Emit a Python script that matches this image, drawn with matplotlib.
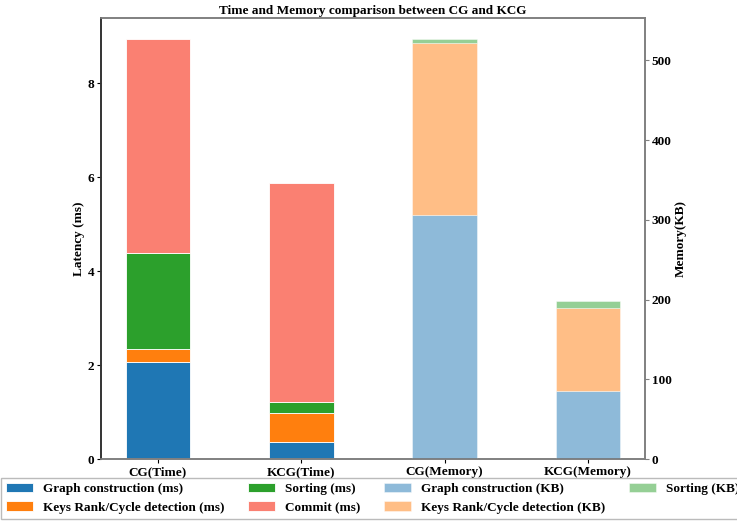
import matplotlib
matplotlib.use("Agg")
import matplotlib.pyplot as plt

plt.rcParams['font.family'] = ['Liberation Serif', 'DejaVu Serif']
plt.rcParams['font.weight'] = 'bold'

# Categories on the shared x axis
time_labels = ["CG(Time)", "KCG(Time)"]
mem_labels = ["CG(Memory)", "KCG(Memory)"]

# Latency breakdown (ms)
graph_ms = [2.06, 0.37]
rank_ms = [0.28, 0.60]
sort_ms = [2.05, 0.25]
commit_ms = [4.54, 4.65]

# Memory breakdown (KB)
graph_kb = [306, 85]
rank_kb = [216, 104]
sort_kb = [5, 9]

FS = 9.5
width = 0.45
x_time = [0, 1]
x_mem = [2, 3]

fig = plt.figure(figsize=(7.37, 5.21), dpi=100)
ax1 = fig.add_axes([0.137, 0.119, 0.738, 0.846])
ax2 = ax1.twinx()

ec = dict(edgecolor='white', linewidth=0.6)
ax1.bar(x_time, graph_ms, width, color='#1f77b4', label='Graph construction (ms)', **ec)
ax1.bar(x_time, rank_ms, width, bottom=graph_ms, color='#ff7f0e',
        label='Keys Rank/Cycle detection (ms)', **ec)
base2 = [a + b for a, b in zip(graph_ms, rank_ms)]
ax1.bar(x_time, sort_ms, width, bottom=base2, color='#2ca02c', label='Sorting (ms)', **ec)
base3 = [a + b for a, b in zip(base2, sort_ms)]
ax1.bar(x_time, commit_ms, width, bottom=base3, color='salmon', label='Commit (ms)', **ec)

ax2.bar(x_mem, graph_kb, width, color='#1f77b4', alpha=0.5, label='Graph construction (KB)', **ec)
ax2.bar(x_mem, rank_kb, width, bottom=graph_kb, color='#ff7f0e', alpha=0.5,
        label='Keys Rank/Cycle detection (KB)', **ec)
mbase = [a + b for a, b in zip(graph_kb, rank_kb)]
ax2.bar(x_mem, sort_kb, width, bottom=mbase, color='#2ca02c', alpha=0.5,
        label='Sorting (KB)', **ec)

ax1.set_xlim(-0.3975, 3.3975)
ax1.set_ylim(0, 9.38)
ax2.set_ylim(0, 553)
ax1.set_yticks([0, 2, 4, 6, 8])
ax2.set_yticks([0, 100, 200, 300, 400, 500])
ax1.set_xticks(x_time + x_mem)
ax1.set_xticklabels(time_labels + mem_labels, fontsize=FS, fontweight='bold')
for lab in ax1.get_yticklabels() + ax2.get_yticklabels():
    lab.set_fontsize(FS)
    lab.set_fontweight('bold')

ax1.set_ylabel('Latency (ms)', fontsize=FS, fontweight='bold', labelpad=1.5)
ax2.set_ylabel('Memory(KB)', fontsize=FS, fontweight='bold', labelpad=2.5)
ax1.set_title('Time and Memory comparison between CG and KCG', fontsize=FS,
              fontweight='bold', pad=3)

for ax in (ax1, ax2):
    for s in ax.spines.values():
        s.set_color('#808080')
        s.set_linewidth(1.2)
ax1.spines['left'].set_color('#333333')
ax2.spines['left'].set_color('#333333')
ax1.tick_params(axis='both', length=3, width=0.8, pad=2)
ax2.tick_params(axis='y', length=3, width=0.8, colors='#808080', labelcolor='black', pad=2)

h1, l1 = ax1.get_legend_handles_labels()
h2, l2 = ax2.get_legend_handles_labels()
leg = ax1.legend(h1 + h2, l1 + l2, ncol=4, loc='upper center',
                 bbox_to_anchor=(0.5, -0.043), frameon=True,
                 prop={'weight': 'bold', 'size': FS}, borderaxespad=0,
                 columnspacing=1.8, fancybox=False, labelspacing=0.45)
leg.get_frame().set_edgecolor('#aaaaaa')

fig.savefig('out.png', dpi=100)
